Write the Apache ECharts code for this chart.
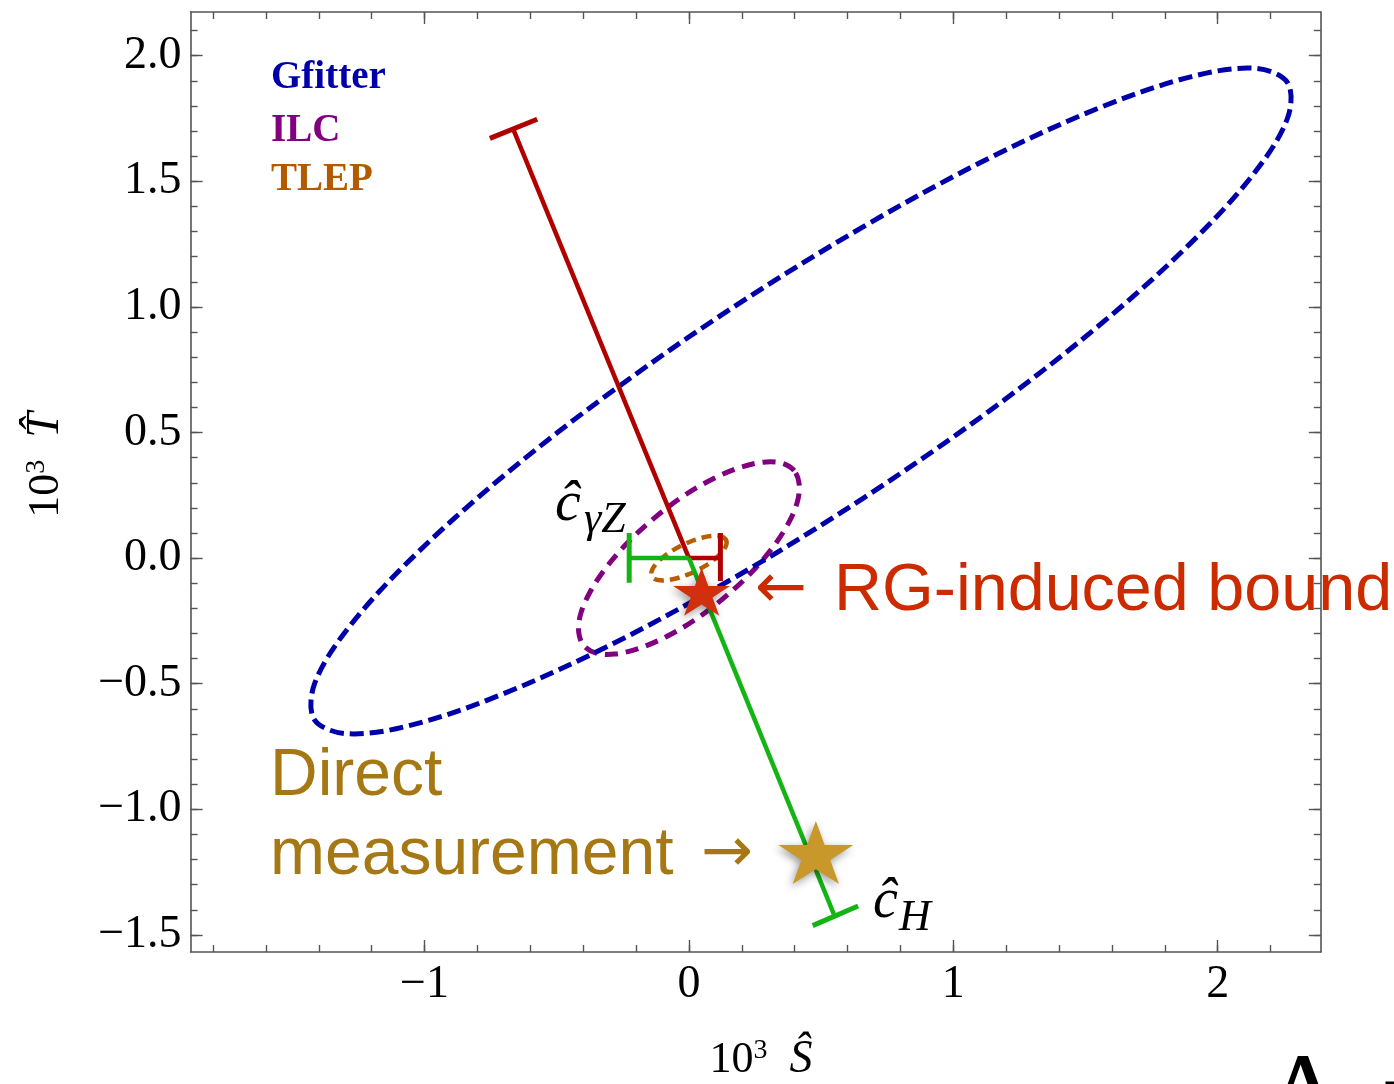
<!DOCTYPE html>
<html><head><meta charset="utf-8">
<script src="https://cdn.jsdelivr.net/npm/echarts@6/dist/echarts.min.js"></script>
<style>html,body{margin:0;padding:0;background:#fff}#chart{width:1394px;height:1084px}</style>
</head><body><div id="chart"></div>
<script>
// ---------- axis ranges and ticks ----------
const X_MIN = -1.885, X_MAX = 2.39;
const Y_MIN = -1.568, Y_MAX = 2.174;
const xMajorTicks = [-1, 0, 1, 2];
const xTickLabels = ['\u22121', '0', '1', '2'];
const yMajorTicks = [-1.5, -1.0, -0.5, 0.0, 0.5, 1.0, 1.5, 2.0];
const yTickLabels = ['\u22121.5', '\u22121.0', '\u22120.5', '0.0', '0.5', '1.0', '1.5', '2.0'];
const xMinorRange = [-1.8, 2.2], xMinorStep = 0.2;
const yMinorRange = [-1.5, 2.1], yMinorStep = 0.1;

// ---------- data (10^3 S, 10^3 T) ----------
// Gfitter ellipse outline
const gfitter = [
  [2.264,1.893],[2.140,1.950],[1.898,1.916],[1.556,1.794],[1.137,1.593],[0.669,1.325],
  [0.184,1.010],[-0.284,0.669],[-0.704,0.325],[-1.047,0.001],[-1.290,-0.280],[-1.416,-0.500],
  [-1.417,-0.643],[-1.293,-0.699],[-1.051,-0.665],[-0.709,-0.543],[-0.290,-0.342],[0.178,-0.074],
  [0.663,0.241],[1.131,0.582],[1.551,0.926],[1.894,1.250],[2.137,1.531],[2.264,1.751]
];
// ILC ellipse outline
const ilc = [
  [0.398,0.348],[0.351,0.378],[0.281,0.382],[0.191,0.360],[0.088,0.314],[-0.021,0.247],
  [-0.128,0.162],[-0.227,0.067],[-0.310,-0.033],[-0.372,-0.131],[-0.409,-0.220],[-0.417,-0.294],
  [-0.398,-0.348],[-0.351,-0.378],[-0.281,-0.382],[-0.191,-0.360],[-0.088,-0.314],[0.021,-0.247],
  [0.128,-0.162],[0.227,-0.067],[0.310,0.033],[0.372,0.131],[0.409,0.220],[0.417,0.294]
];
// TLEP ellipse outline
const tlep = [
  [0.1405,0.0718],[0.1295,0.0829],[0.1096,0.0884],[0.0823,0.0878],[0.0494,0.0812],[0.0131,0.0691],
  [-0.0241,0.0523],[-0.0597,0.0319],[-0.0912,0.0094],[-0.1163,-0.0138],[-0.1338,-0.0360],[-0.1419,-0.0559],
  [-0.1405,-0.0718],[-0.1295,-0.0829],[-0.1096,-0.0884],[-0.0823,-0.0878],[-0.0494,-0.0812],[-0.0131,-0.0691],
  [0.0241,-0.0523],[0.0597,-0.0319],[0.0912,-0.0094],[0.1163,0.0138],[0.1338,0.0360],[0.1419,0.0559]
];
// RG-induced bound (red) and c_H / c_gammaZ directions
const redDiag = [[0, 0], [-0.664, 1.706]];
const redDiagCap = [[-0.753, 1.671], [-0.574, 1.747]];
const redHoriz = [[0, 0], [0.119, 0]];
const redHorizCap = [[0.119, 0.100], [0.119, -0.091]];
const greenDiag = [[0, 0], [0.548, -1.417]];
const greenDiagCap = [[0.468, -1.463], [0.640, -1.385]];
const greenHoriz = [[0, 0], [-0.226, 0]];
const greenHorizCap = [[-0.226, 0.100], [-0.226, -0.098]];
const rgStar = [[0.048, -0.134]];
const directStar = [[0.480, -1.172]];

// ---------- layout ----------
const W = 1394, H = 1084;
const FRAME = {l: 190.6, r: 1320.8, t: 12, b: 952};
const px = v => FRAME.l + (v - X_MIN) / (X_MAX - X_MIN) * (FRAME.r - FRAME.l);
const py = v => FRAME.b - (v - Y_MIN) / (Y_MAX - Y_MIN) * (FRAME.b - FRAME.t);
const gridFor = (x0, x1, y0, y1) => ({left: px(x0), right: W - px(x1), top: py(y1), bottom: H - py(y0), containLabel: false});

const FRAME_COLOR = '#555';
const SERIF = '"Liberation Serif", "Times New Roman", serif';
const SANS = '"Liberation Sans", Arial, Helvetica, sans-serif';
const ARROWFONT = '"DejaVu Sans", sans-serif';

const frameAxis = (gridIndex, position, min, max) => ({
  type: 'value', gridIndex, position, min, max,
  axisLine: {show: true, onZero: false, lineStyle: {color: FRAME_COLOR, width: 1.6}},
  axisTick: {show: false}, axisLabel: {show: false}, splitLine: {show: false}
});
const tickAxis = (gridIndex, position, min, max, interval, len, label) => ({
  type: 'value', gridIndex, position, min, max, interval,
  axisLine: {show: false, onZero: false},
  axisTick: {show: true, inside: true, length: len, lineStyle: {color: FRAME_COLOR, width: 1.4}},
  axisLabel: label || {show: false},
  splitLine: {show: false}
});
const dummyAxis = gridIndex => ({type: 'value', gridIndex, show: false, min: 0, max: 1,
  axisLine: {show: false, onZero: false}, splitLine: {show: false}});

const lookup = (vals, labels) => v => {
  let best = 0;
  vals.forEach((t, i) => { if (Math.abs(t - v) < Math.abs(vals[best] - v)) best = i; });
  return labels[best];
};

const xLabel = {show: true, margin: 10, fontFamily: SERIF, fontSize: 46, color: '#000',
  formatter: lookup(xMajorTicks, xTickLabels)};
const yLabel = {show: true, margin: 9, fontFamily: SERIF, fontSize: 46, color: '#000',
  formatter: lookup(yMajorTicks, yTickLabels)};

const ellipseSeries = (pts, color, width, dash, z) => ({
  type: 'custom', coordinateSystem: 'cartesian2d', xAxisIndex: 0, yAxisIndex: 0,
  data: pts, silent: true, z, animation: false,
  renderItem: (params, api) => params.dataIndex === 0 ? {
    type: 'polygon',
    shape: {points: pts.map(p => api.coord(p)), smooth: 0.34},
    style: {fill: 'none', stroke: color, lineWidth: width, lineDash: dash, lineCap: 'butt'}
  } : null
});
const segSeries = (pts, color, width, z) => ({
  type: 'line', xAxisIndex: 0, yAxisIndex: 0, data: pts, symbol: 'none', silent: true, z,
  animation: false, lineStyle: {color, width, cap: 'butt'}
});
const STAR = 'path://M50,0 L61.2,34.5 L97.6,34.5 L68.2,55.9 L79.4,90.5 L50,69.1 L20.6,90.5 L31.8,55.9 L2.4,34.5 L38.8,34.5 Z';

const RED = '#B00000', GREEN = '#14B414';

const txt = (x, y, text, font, fill, extra) => Object.assign({
  type: 'text', x, y, silent: true, z: 100,
  style: Object.assign({text, fill, verticalAlign: 'middle', align: 'left'}, font)
}, extra || {});

const titleRich = {
  n: {fontFamily: SERIF, fontSize: 44, fill: '#000'},
  s: {fontFamily: SERIF, fontSize: 28, fill: '#000', verticalAlign: 'top', padding: [0, 0, 14, 0]},
  g: {fontFamily: SERIF, fontSize: 30, width: 22},
  t: {fontFamily: SERIF, fontSize: 46, fontStyle: 'italic', fill: '#000'}
};

const option = {
  animation: false,
  backgroundColor: '#fff',
  grid: [
    gridFor(X_MIN, X_MAX, Y_MIN, Y_MAX),
    gridFor(xMinorRange[0], xMinorRange[1], Y_MIN, Y_MAX),
    gridFor(xMajorTicks[0], xMajorTicks[xMajorTicks.length - 1], Y_MIN, Y_MAX),
    gridFor(X_MIN, X_MAX, yMinorRange[0], yMinorRange[1]),
    gridFor(X_MIN, X_MAX, yMajorTicks[0], yMajorTicks[yMajorTicks.length - 1])
  ],
  xAxis: [
    frameAxis(0, 'bottom', X_MIN, X_MAX),
    frameAxis(0, 'top', X_MIN, X_MAX),
    tickAxis(1, 'bottom', xMinorRange[0], xMinorRange[1], xMinorStep, 7),
    tickAxis(1, 'top', xMinorRange[0], xMinorRange[1], xMinorStep, 7),
    tickAxis(2, 'bottom', xMajorTicks[0], xMajorTicks[xMajorTicks.length - 1], 1, 12, xLabel),
    tickAxis(2, 'top', xMajorTicks[0], xMajorTicks[xMajorTicks.length - 1], 1, 12),
    dummyAxis(3), dummyAxis(4)
  ],
  yAxis: [
    frameAxis(0, 'left', Y_MIN, Y_MAX),
    frameAxis(0, 'right', Y_MIN, Y_MAX),
    dummyAxis(1), dummyAxis(2),
    tickAxis(3, 'left', yMinorRange[0], yMinorRange[1], yMinorStep, 7),
    tickAxis(3, 'right', yMinorRange[0], yMinorRange[1], yMinorStep, 7),
    tickAxis(4, 'left', yMajorTicks[0], yMajorTicks[yMajorTicks.length - 1], 0.5, 12, yLabel),
    tickAxis(4, 'right', yMajorTicks[0], yMajorTicks[yMajorTicks.length - 1], 0.5, 12)
  ],
  series: [
    ellipseSeries(ilc, '#800080', 5, [13, 8], 2),
    ellipseSeries(gfitter, '#0000AA', 5, [14, 6], 3),
    ellipseSeries(tlep, '#B85E00', 4.5, [10, 6], 3),
    segSeries(redDiag, RED, 4.5, 4), segSeries(redDiagCap, RED, 5, 4),
    segSeries(redHoriz, RED, 4.5, 4), segSeries(redHorizCap, RED, 5, 4),
    segSeries(greenDiag, GREEN, 4.5, 4), segSeries(greenDiagCap, GREEN, 5, 4),
    segSeries(greenHoriz, GREEN, 4.5, 4), segSeries(greenHorizCap, GREEN, 5, 4),
    {type: 'scatter', xAxisIndex: 0, yAxisIndex: 0, data: rgStar, symbol: STAR, symbolSize: [57, 48], z: 10, silent: true,
     itemStyle: {color: '#D0300E', opacity: 1, shadowBlur: 8, shadowColor: 'rgba(0,0,0,0.4)', shadowOffsetX: -2, shadowOffsetY: 3}},
    {type: 'scatter', xAxisIndex: 0, yAxisIndex: 0, data: directStar, symbol: STAR, symbolSize: [75, 63], z: 10, silent: true,
     itemStyle: {color: '#C8982A', opacity: 1, shadowBlur: 8, shadowColor: 'rgba(0,0,0,0.4)', shadowOffsetX: -2, shadowOffsetY: 3}}
  ],
  graphic: [
    // legend-like labels
    txt(271, 78, 'Gfitter', {fontFamily: SERIF, fontSize: 39, fontWeight: 'bold'}, '#0000AA'),
    txt(271, 131, 'ILC', {fontFamily: SERIF, fontSize: 39, fontWeight: 'bold'}, '#800080'),
    txt(271, 180, 'TLEP', {fontFamily: SERIF, fontSize: 39, fontWeight: 'bold'}, '#B35900'),
    // operator labels
    txt(555, 505, '\u0109', {fontFamily: SERIF, fontSize: 58, fontStyle: 'italic'}, '#000'),
    txt(584, 520, '\u03B3Z', {fontFamily: SERIF, fontSize: 44, fontStyle: 'italic'}, '#000'),
    txt(873, 902, '\u0109', {fontFamily: SERIF, fontSize: 56, fontStyle: 'italic'}, '#000'),
    txt(899, 918, 'H', {fontFamily: SERIF, fontSize: 44, fontStyle: 'italic'}, '#000'),
    // annotations
    txt(755, 591, '\u2190', {fontFamily: ARROWFONT, fontSize: 62}, '#CC2B00'),
    txt(834, 592, 'RG-induced bound', {fontFamily: SANS, fontSize: 66.5}, '#CC2B00'),
    txt(270, 777, 'Direct', {fontFamily: SANS, fontSize: 66}, '#A67814'),
    txt(270, 856, 'measurement', {fontFamily: SANS, fontSize: 66}, '#A67814'),
    txt(701, 855, '\u2192', {fontFamily: ARROWFONT, fontSize: 62}, '#A67814'),
    // axis titles
    txt(46, 465, '', {}, '#000', {
      rotation: Math.PI / 2,
      style: {text: '{n|10}{s|3}{g| }{t|T\u0302}', align: 'center', verticalAlign: 'middle', rich: titleRich}
    }),
    txt(761, 1060, '', {}, '#000', {
      style: {text: '{n|10}{s|3}{g| }{t|\u015C}', align: 'center', verticalAlign: 'middle', rich: titleRich}
    }),
    // cut-off caption at bottom right
    txt(1264, 1100, '\u039B', {fontFamily: SERIF, fontSize: 110}, '#000'),
    txt(1338, 1102, 'ij', {fontFamily: SERIF, fontSize: 44, fontStyle: 'italic'}, '#000'),
    txt(1382, 1096, '=', {fontFamily: SERIF, fontSize: 70}, '#000')
  ]
};

const chart = echarts.init(document.getElementById('chart'), null, {renderer: 'canvas'});
chart.setOption(option);
</script>
</body></html>
